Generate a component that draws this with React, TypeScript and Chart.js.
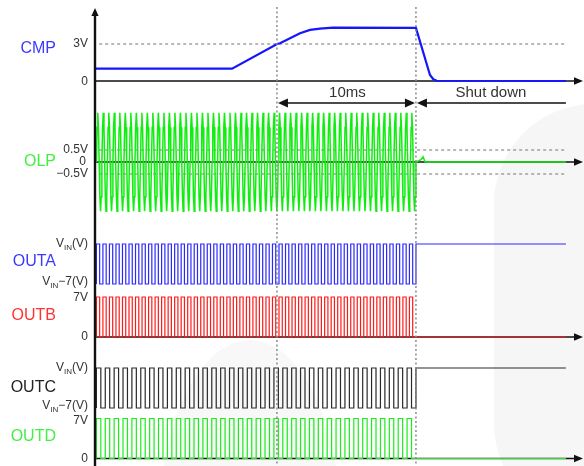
import React, { useEffect, useRef } from "react";
import { Chart, registerables } from "chart.js";

Chart.register(...registerables);

const W = 584;
const H = 466;

// ---- time axis (ms) ----
const T_ORIGIN_PX = 95;
const PX_PER_MS = 13.9;
const T_MIN = -T_ORIGIN_PX / PX_PER_MS;
const T_MAX = (W - T_ORIGIN_PX) / PX_PER_MS;
const T_MARKERS = [13.09, 23.09]; // dotted verticals (10 ms apart)
const T_END = 33.88; // end of traces
const T_SHUT = 23.09;

// ---- CMP (V) ----
const CMP_T = [0, 9.86, 13.1, 13.31, 14.03, 14.75, 15.47, 16.19, 17.12, 23.09, 24.1, 24.34, 24.58, 33.88];
const CMP_V = [1.0, 1.0, 3.0, 3.06, 3.46, 3.87, 4.14, 4.24, 4.32, 4.3, 0.49, 0.14, 0.02, 0];
const CMP_REF = [3];

// ---- OLP (V) ----
const OLP_CYCLE = [0, 1.45, 2.05, 1.45, 0, -1.45, -2.05, -1.45];
const OLP_CYCLES = 58;
const OLP_START = 0.1;
const OLP_TAIL_T = [23.09, 23.45, 23.6, 23.75, 33.88];
const OLP_TAIL_V = [0, 0.1, 0.22, 0, 0];
const OLP_REF = [0.5, -0.5];

// ---- outputs: [high, low], cycles, level after shutdown ----
const OUTA_LEVELS = [0, -7]; // relative to VIN
const OUTA_CYCLES = 49;
const OUTA_AFTER = 0;
const OUTB_LEVELS = [7, 0];
const OUTB_CYCLES = 49;
const OUTB_AFTER = 0;
const OUTC_LEVELS = [0, -7]; // relative to VIN
const OUTC_CYCLES = 36;
const OUTC_AFTER = 0;
const OUTD_LEVELS = [7, 0];
const OUTD_CYCLES = 36;
const OUTD_AFTER = 0;
const OUT_START = 0.1;

const FONT = '"Liberation Sans", Arial, sans-serif';

type P = { x: number; y: number };

function zip(ts: number[], vs: number[]): P[] {
  return ts.map((t, i) => ({ x: t, y: vs[i] }));
}

function repeatCycle(cycle: number[], cycles: number, start: number, stop: number): P[] {
  const p = (stop - start) / cycles;
  const n = cycle.length;
  const pts: P[] = [];
  for (let i = 0; i < cycles; i++) {
    for (let j = 0; j < n; j++) pts.push({ x: start + (i + j / n) * p, y: cycle[j] });
  }
  pts.push({ x: stop, y: cycle[0] });
  return pts;
}

function squareWave(levels: number[], cycles: number, start: number, stop: number, after: number): P[] {
  const [hi, lo] = levels;
  const p = (stop - start) / cycles;
  const pts: P[] = [{ x: start, y: lo }];
  for (let i = 0; i < cycles; i++) {
    const t = start + i * p;
    pts.push({ x: t, y: hi }, { x: t + p / 2, y: hi }, { x: t + p / 2, y: lo }, { x: t + p, y: lo });
  }
  pts.push({ x: stop, y: after }, { x: T_END, y: after });
  return pts;
}

function band(zeroPx: number, pxPerUnit: number) {
  return {
    type: "linear" as const,
    display: false,
    bounds: "data" as const,
    min: -(H - zeroPx) / pxPerUnit,
    max: zeroPx / pxPerUnit,
  };
}

function arrowHead(ctx: CanvasRenderingContext2D, x: number, y: number, dir: "l" | "r" | "u", len: number, half: number) {
  ctx.beginPath();
  if (dir === "r") {
    ctx.moveTo(x, y);
    ctx.lineTo(x - len, y - half);
    ctx.lineTo(x - len, y + half);
  } else if (dir === "l") {
    ctx.moveTo(x, y);
    ctx.lineTo(x + len, y - half);
    ctx.lineTo(x + len, y + half);
  } else {
    ctx.moveTo(x, y);
    ctx.lineTo(x - half, y + len);
    ctx.lineTo(x + half, y + len);
  }
  ctx.closePath();
  ctx.fill();
}

function rich(ctx: CanvasRenderingContext2D, parts: [string, number, number][], rightX: number, y: number, color: string) {
  ctx.fillStyle = color;
  ctx.textBaseline = "middle";
  ctx.textAlign = "left";
  let total = 0;
  for (const [t, s] of parts) {
    ctx.font = `${s}px ${FONT}`;
    total += ctx.measureText(t).width;
  }
  let x = rightX - total;
  for (const [t, s, dy] of parts) {
    ctx.font = `${s}px ${FONT}`;
    ctx.fillText(t, x, y + dy);
    x += ctx.measureText(t).width;
  }
}

const diagramPlugin = {
  id: "diagram",
  beforeDraw(chart: any) {
    const ctx: CanvasRenderingContext2D = chart.ctx;
    ctx.save();
    ctx.fillStyle = "#ffffff";
    ctx.fillRect(0, 0, W, H);
    ctx.fillStyle = "#f6f6f6";
    ctx.beginPath();
    (ctx as any).roundRect(494, 104, 260, 420, 100);
    ctx.fill();
    ctx.fillStyle = "#f8f8f8";
    ctx.beginPath();
    ctx.ellipse(250, 520, 90, 180, 0, 0, Math.PI * 2);
    ctx.fill();
    ctx.restore();
  },
  beforeDatasetsDraw(chart: any) {
    const ctx: CanvasRenderingContext2D = chart.ctx;
    const s = chart.scales;
    const x0 = s.x.getPixelForValue(0);
    ctx.save();
    ctx.strokeStyle = "#111";
    ctx.lineWidth = 1.6;
    const bases = [s.yCMP.getPixelForValue(0), s.yOLP.getPixelForValue(0), s.yB.getPixelForValue(0), s.yD.getPixelForValue(0)];
    for (const y of bases) {
      ctx.beginPath();
      ctx.moveTo(x0, y);
      ctx.lineTo(W - 4, y);
      ctx.stroke();
    }
    ctx.restore();
  },
  afterDatasetsDraw(chart: any) {
    const ctx: CanvasRenderingContext2D = chart.ctx;
    const s = chart.scales;
    const x0 = s.x.getPixelForValue(0);
    const xEnd = s.x.getPixelForValue(T_END);
    ctx.save();

    // dotted time markers
    ctx.strokeStyle = "#8c8c8c";
    ctx.lineWidth = 1.5;
    ctx.setLineDash([2, 2.5]);
    for (const t of T_MARKERS) {
      const x = s.x.getPixelForValue(t);
      ctx.beginPath();
      ctx.moveTo(x, 7);
      ctx.lineTo(x, H);
      ctx.stroke();
    }
    ctx.setLineDash([]);

    // vertical axis
    ctx.strokeStyle = "#111";
    ctx.fillStyle = "#111";
    ctx.lineWidth = 2.4;
    ctx.beginPath();
    ctx.moveTo(x0, 14);
    ctx.lineTo(x0, H);
    ctx.stroke();
    arrowHead(ctx, x0, 8, "u", 8, 3.6);

    // baseline arrows
    const bases = [s.yCMP.getPixelForValue(0), s.yOLP.getPixelForValue(0), s.yB.getPixelForValue(0), s.yD.getPixelForValue(0)];
    for (const y of bases) arrowHead(ctx, W - 1, y, "r", 9, 3.8);

    // 10 ms / shut down arrows
    const xa = s.x.getPixelForValue(T_MARKERS[0]);
    const xb = s.x.getPixelForValue(T_MARKERS[1]);
    const ya = 103;
    ctx.lineWidth = 1.6;
    ctx.beginPath();
    ctx.moveTo(xa + 6, ya);
    ctx.lineTo(xb - 6, ya);
    ctx.moveTo(xb + 6, ya);
    ctx.lineTo(xEnd, ya);
    ctx.stroke();
    arrowHead(ctx, xa + 1, ya, "l", 10, 4.5);
    arrowHead(ctx, xb - 1, ya, "r", 10, 4.5);
    arrowHead(ctx, xb + 1, ya, "l", 10, 4.5);

    ctx.fillStyle = "#333";
    ctx.textBaseline = "middle";
    ctx.textAlign = "center";
    ctx.font = `15px ${FONT}`;
    ctx.fillText("10ms", (xa + xb) / 2 + 1, 93);
    ctx.fillText("Shut down", (xb + xEnd) / 2, 93);

    // signal names
    ctx.textAlign = "right";
    ctx.font = `16px ${FONT}`;
    const names: [string, string, number][] = [
      ["CMP", "#3a3aff", 49],
      ["OLP", "#44ee44", 162],
      ["OUTA", "#3a3aff", 262],
      ["OUTB", "#ff3333", 316],
      ["OUTC", "#222222", 388],
      ["OUTD", "#44ee44", 437],
    ];
    for (const [n, c, y] of names) {
      ctx.fillStyle = c;
      ctx.fillText(n, 56, y);
    }

    // tick labels
    const R = 88;
    const tc = "#333";
    const vin: [string, number, number][] = [["V", 12, 0], ["IN", 8, 4], ["(V)", 12, 0]];
    const vin7: [string, number, number][] = [["V", 12, 0], ["IN", 8, 4], ["\u22127(V)", 12, 0]];
    rich(ctx, [["3V", 12, 0]], R, s.yCMP.getPixelForValue(CMP_REF[0]), tc);
    rich(ctx, [["0", 12, 0]], R, s.yCMP.getPixelForValue(0) + 1, tc);
    rich(ctx, [["0.5V", 12, 0]], R, s.yOLP.getPixelForValue(OLP_REF[0]), tc);
    rich(ctx, [["0", 12, 0]], R - 2, s.yOLP.getPixelForValue(0), tc);
    rich(ctx, [["\u22120.5V", 12, 0]], R, s.yOLP.getPixelForValue(OLP_REF[1]), tc);
    rich(ctx, vin, R, s.yA.getPixelForValue(OUTA_LEVELS[0]), tc);
    rich(ctx, vin7, R, s.yA.getPixelForValue(OUTA_LEVELS[1]) - 2, tc);
    rich(ctx, [["7V", 12, 0]], R, s.yB.getPixelForValue(OUTB_LEVELS[0]) + 1, tc);
    rich(ctx, [["0", 12, 0]], R, s.yB.getPixelForValue(0), tc);
    rich(ctx, vin, R, s.yC.getPixelForValue(OUTC_LEVELS[0]), tc);
    rich(ctx, vin7, R, s.yC.getPixelForValue(OUTC_LEVELS[1]) - 2, tc);
    rich(ctx, [["7V", 12, 0]], R, s.yD.getPixelForValue(OUTD_LEVELS[0]) + 2, tc);
    rich(ctx, [["0", 12, 0]], R, s.yD.getPixelForValue(0), tc);

    ctx.restore();
  },
};

export default function App() {
  const ref = useRef<HTMLCanvasElement | null>(null);

  useEffect(() => {
    if (!ref.current) return;
    const line = (data: P[], yAxisID: string, color: string, width: number, dash?: number[]) => ({
      data,
      yAxisID,
      borderColor: color,
      borderWidth: width,
      borderDash: dash || [],
      pointRadius: 0,
      tension: 0,
      fill: false,
    });
    const refLine = (yAxisID: string, v: number) =>
      line([{ x: 0.3, y: v }, { x: T_END, y: v }], yAxisID, "#8a8a8a", 1.2, [3, 3]);

    const chart = new Chart(ref.current, {
      type: "line",
      data: {
        datasets: [
          line(zip(CMP_T, CMP_V), "yCMP", "#1515ff", 2.2),
          line(
            repeatCycle(OLP_CYCLE, OLP_CYCLES, OLP_START, T_SHUT).concat(zip(OLP_TAIL_T, OLP_TAIL_V)),
            "yOLP",
            "#10ee10",
            1.5
          ),
          line(squareWave(OUTA_LEVELS, OUTA_CYCLES, OUT_START, T_SHUT, OUTA_AFTER), "yA", "#2a2aff", 1.2),
          line(squareWave(OUTB_LEVELS, OUTB_CYCLES, OUT_START, T_SHUT, OUTB_AFTER), "yB", "#ff1a1a", 1.2),
          line(squareWave(OUTC_LEVELS, OUTC_CYCLES, OUT_START, T_SHUT, OUTC_AFTER), "yC", "#2a2a2a", 1.2),
          line(squareWave(OUTD_LEVELS, OUTD_CYCLES, OUT_START, T_SHUT, OUTD_AFTER), "yD", "#1aee1a", 1.2),
          refLine("yCMP", CMP_REF[0]),
          refLine("yOLP", OLP_REF[0]),
          refLine("yOLP", OLP_REF[1]),
        ] as any,
      },
      options: {
        animation: false,
        responsive: false,
        devicePixelRatio: 1,
        events: [],
        layout: { padding: 0, autoPadding: false } as any,
        parsing: false as any,
        normalized: true,
        plugins: { legend: { display: false }, tooltip: { enabled: false } },
        scales: {
          x: { type: "linear", display: false, bounds: "data", min: T_MIN, max: T_MAX },
          yCMP: band(81, 37 / 3),
          yOLP: band(162, 24),
          yA: band(244, 40 / 7),
          yB: band(337, 40 / 7),
          yC: band(368, 40 / 7),
          yD: band(458.5, 40 / 7),
        } as any,
      },
      plugins: [diagramPlugin as any],
    });
    return () => chart.destroy();
  }, []);

  return (
    <div style={{ position: "fixed", left: 0, top: 0, width: W, height: H }}>
      <canvas ref={ref} width={W} height={H} style={{ display: "block" }} />
    </div>
  );
}
